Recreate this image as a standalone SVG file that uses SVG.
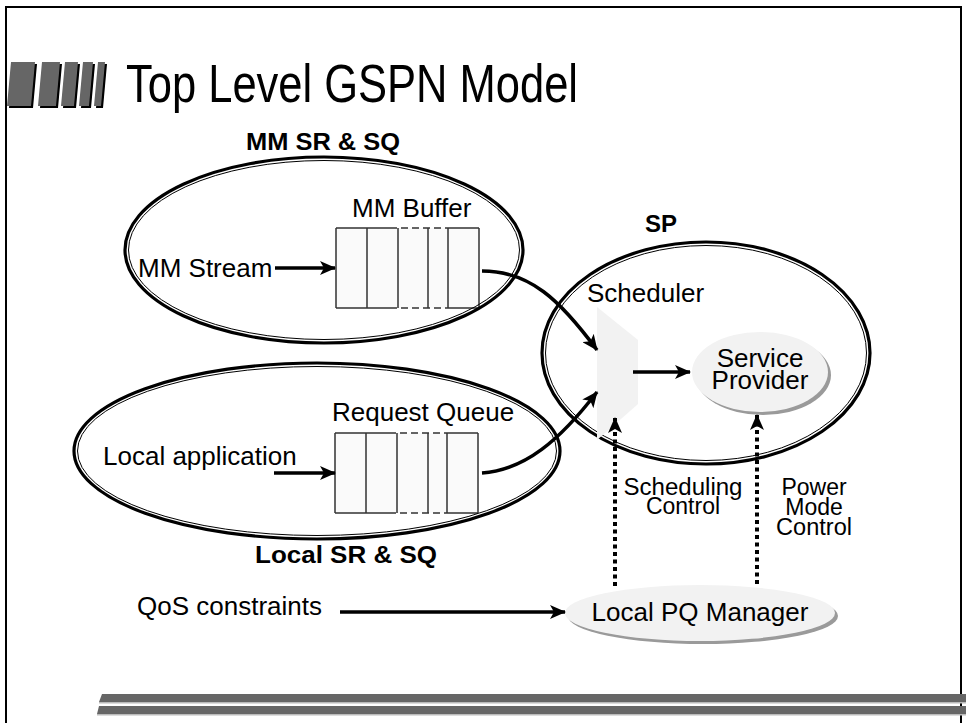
<svg xmlns="http://www.w3.org/2000/svg" width="966" height="723" viewBox="0 0 966 723">
<defs>
<style>
text{font-family:"Liberation Sans",Arial,Helvetica,sans-serif;fill:#000}
.t26{font-size:26px}
.t23{font-size:23px}
.b{font-weight:bold;font-size:24px}
.mid{text-anchor:middle}
.ring{fill:none;stroke:#000;stroke-width:3.2}
.ring2{fill:none;stroke:#000;stroke-width:1}
.cell{fill:#fafafa;stroke:none}
.bl{stroke:#333;stroke-width:1.5;fill:none}
.bd{stroke:#333;stroke-width:1.5;fill:none;stroke-dasharray:7 4}
.arr{fill:none;stroke:#000;stroke-width:3.5;marker-end:url(#ah)}
.dot{fill:none;stroke:#000;stroke-width:4;stroke-dasharray:4 3.5;marker-end:url(#ah)}
.node{fill:#f2f2f2}
.shadow{fill:#9a9a9a}
.bar{fill:#666}
.barsh{fill:#000}
</style>
<marker id="ah" markerWidth="16" markerHeight="14" refX="15" refY="7" orient="auto" markerUnits="userSpaceOnUse">
<path d="M0,0 L16,7 L0,14 L4,7 z" fill="#000"/>
</marker>
</defs>

<rect width="966" height="723" fill="#fff"/>
<path d="M6,723 V7 H961 V723" fill="none" stroke="#000" stroke-width="2"/>

<g id="title">
<polygon class="barsh" points="9,108 13,64 37,64 33,108"/>
<polygon class="bar" points="7,106 11,62 35,62 31,106"/>
<polygon class="barsh" points="40,108 44,64 62,64 58,108"/>
<polygon class="bar" points="38,106 42,62 60,62 56,106"/>
<polygon class="barsh" points="63,108 67,64 80,64 76,108"/>
<polygon class="bar" points="61,106 65,62 78,62 74,106"/>
<polygon class="barsh" points="81,108 85,64 95,64 91,108"/>
<polygon class="bar" points="79,106 83,62 93,62 89,106"/>
<polygon class="barsh" points="96,108 100,64 107,64 103,108"/>
<polygon class="bar" points="94,106 98,62 105,62 101,106"/>
<text x="126" y="102" font-size="54" textLength="452" lengthAdjust="spacingAndGlyphs">Top Level GSPN Model</text>
</g>

<g id="mm-buffer">
<rect class="cell" x="336" y="228" width="143" height="80"/>
<path class="bl" d="M336,228 H390 M448,228 H479 M336,308 H390 M448,308 H479 M336,228 V308 M367,228 V308 M398,228 V308 M428,228 V308 M448,228 V308 M479,228 V308"/>
<path class="bd" d="M390,228 H448 M390,308 H448"/>
<text class="t26" x="352" y="217">MM Buffer</text>
</g>

<g id="mm-sr-sq">
<ellipse class="ring" cx="324" cy="250" rx="199" ry="93"/>
<ellipse class="ring2" cx="324" cy="250" rx="195.5" ry="89.5"/>
<text class="b" x="246" y="150" textLength="154" lengthAdjust="spacingAndGlyphs">MM SR &amp; SQ</text>
<text class="t26" x="138" y="277">MM Stream</text>
</g>

<g id="request-queue">
<rect class="cell" x="335" y="433" width="143" height="80"/>
<path class="bl" d="M335,433 H389 M447,433 H478 M335,513 H389 M447,513 H478 M335,433 V513 M366,433 V513 M397,433 V513 M428,433 V513 M447,433 V513 M478,433 V513"/>
<path class="bd" d="M389,433 H447 M389,513 H447"/>
<text class="t26" x="332" y="421">Request Queue</text>
</g>

<g id="local-sr-sq">
<ellipse class="ring" cx="317" cy="451" rx="243" ry="88"/>
<ellipse class="ring2" cx="317" cy="451" rx="239.5" ry="84.5"/>
<text class="t26" x="103" y="465">Local application</text>
<text class="b" x="255" y="563" textLength="182" lengthAdjust="spacingAndGlyphs">Local SR &amp; SQ</text>
</g>

<g id="sp">
<ellipse class="ring" cx="706" cy="353" rx="164" ry="111"/>
<ellipse class="ring2" cx="706" cy="353" rx="160.5" ry="107.5"/>
<text class="b" x="645" y="232" font-size="27">SP</text>
</g>

<g id="scheduler">
<polygon points="597,307 638,340 638,404 597,440" fill="#f2f2f2"/>
<text class="t26" x="587" y="302">Scheduler</text>
</g>

<g id="service-provider">
<ellipse class="shadow" cx="763" cy="375" rx="68" ry="40"/>
<ellipse class="node" cx="760" cy="372" rx="68" ry="40"/>
<text class="t26 mid" x="760" y="367">Service</text>
<text class="t26 mid" x="760" y="389">Provider</text>
</g>

<g id="local-pq-manager">
<ellipse class="shadow" cx="703" cy="616" rx="135" ry="28"/>
<ellipse class="node" cx="700" cy="613" rx="135" ry="28"/>
<text class="t26 mid" x="700" y="621">Local PQ Manager</text>
</g>

<g id="connectors">
<path class="arr" d="M275,268 H335"/>
<path class="arr" d="M274,473 H335"/>
<path class="arr" d="M482,271 C530,271 560,300 597,350"/>
<path class="arr" d="M482,473 C525,470 560,440 597,392"/>
<path class="arr" d="M633,372 H690"/>
<path class="arr" d="M340,612 H565"/>
<path class="dot" d="M615,586 V418"/>
<path class="dot" d="M757,584 V415"/>
</g>

<g id="labels">
<text class="t26" x="137" y="615">QoS constraints</text>
<text class="t23 mid" x="683" y="495" textLength="119" lengthAdjust="spacingAndGlyphs">Scheduling</text>
<text class="t23 mid" x="683" y="514">Control</text>
<text class="t23 mid" x="814" y="495">Power</text>
<text class="t23 mid" x="814" y="515">Mode</text>
<text class="t23 mid" x="814" y="535" textLength="76" lengthAdjust="spacingAndGlyphs">Control</text>
</g>

<g id="footer">
<polygon class="bar" points="102,694 966,694 966,702 99,702"/>
<rect x="99" y="702" width="867" height="1.5" fill="#bbb"/>
<polygon class="bar" points="99,706 966,706 966,714 97,714"/>
<rect x="97" y="714" width="869" height="1.5" fill="#bbb"/>
</g>
</svg>
